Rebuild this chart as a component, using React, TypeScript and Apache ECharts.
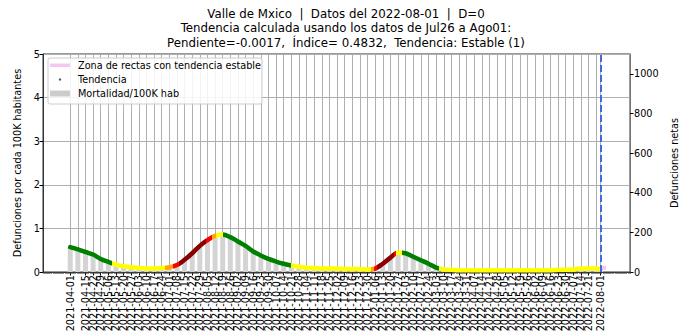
import React, { useEffect, useRef } from 'react';
import * as echarts from 'echarts';

const titleLines = [
  'Valle de Mxico  |  Datos del 2022-08-01  |  D=0',
  'Tendencia calculada usando los datos de Jul26 a Ago01:',
  'Pendiente=-0.0017,  Índice= 0.4832,  Tendencia: Estable (1)',
];

// x axis range (daily categories) and tick labels
const axisStart = '2021-03-07';
const axisEnd = '2022-08-28';
const firstTick = '2021-04-01';
const weeklyTickCount = 70;
const lastTick = '2022-08-01';

// weekly values (one per tick label, last one = 2022-08-01)
const trendVals = [
  0.57, 0.52, 0.46, 0.40, 0.30, 0.23, 0.17, 0.13, 0.11, 0.09,
  0.08, 0.08, 0.09, 0.11, 0.16, 0.28, 0.43, 0.60, 0.73, 0.83,
  0.86, 0.80, 0.70, 0.60, 0.47, 0.38, 0.30, 0.24, 0.19, 0.15,
  0.12, 0.10, 0.09, 0.08, 0.08, 0.08, 0.07, 0.07, 0.07, 0.06,
  0.08, 0.19, 0.33, 0.45, 0.43, 0.35, 0.27, 0.19, 0.10, 0.06,
  0.05, 0.04, 0.04, 0.04, 0.04, 0.04, 0.04, 0.04, 0.04, 0.04,
  0.04, 0.04, 0.04, 0.04, 0.05, 0.05, 0.06, 0.08, 0.08, 0.08,
  0.07,
];
const barVals = [
  0.55, 0.50, 0.46, 0.40, 0.32, 0.24, 0.18, 0.13, 0.11, 0.09,
  0.08, 0.08, 0.09, 0.11, 0.17, 0.29, 0.45, 0.62, 0.76, 0.86,
  0.88, 0.81, 0.70, 0.59, 0.48, 0.38, 0.30, 0.24, 0.19, 0.15,
  0.12, 0.10, 0.09, 0.08, 0.08, 0.08, 0.07, 0.07, 0.07, 0.06,
  0.09, 0.20, 0.34, 0.46, 0.43, 0.35, 0.27, 0.18, 0.10, 0.06,
  0.05, 0.04, 0.04, 0.04, 0.04, 0.04, 0.04, 0.04, 0.04, 0.04,
  0.04, 0.04, 0.04, 0.04, 0.05, 0.05, 0.06, 0.08, 0.09, 0.08,
  0.08,
];

// trend colour zones: [startDay, endDay, colour], days counted from 2021-04-01
const G = '#008000', Y = '#ffff00', O = '#ffa500', R = '#ff0000', D = '#8b0000';
const trendZones: [number, number, string][] = [
  [-100, 38, G], [38, 87, Y], [87, 94, O], [94, 100, R], [100, 125, D],
  [125, 130, R], [130, 134, O], [134, 140, Y], [140, 203, G], [203, 276, Y],
  [276, 279, O], [279, 282, R], [282, 297, D], [297, 299, R], [299, 305, Y],
  [305, 339, G], [339, 1000, Y],
];

const zoneDates = ['2022-08-01', '2022-08-06'];
const zoneVals = [0.095, 0.095];

const leftTicks = [0, 1, 2, 3, 4, 5];
const rightTicks = [0, 200, 400, 600, 800, 1000];
const legendNames = ['Zona de rectas con tendencia estable', 'Tendencia', 'Mortalidad/100K hab'];
const yLeftName = 'Defunciones por cada 100K habitantes';
const yRightName = 'Defunciones netas';

const FONT = 'DejaVu Sans';

function addDays(iso: string, n: number) {
  const d = new Date(iso + 'T00:00:00Z');
  d.setUTCDate(d.getUTCDate() + n);
  return d.toISOString().slice(0, 10);
}
function dayDiff(a: string, b: string) {
  return Math.round((Date.parse(b + 'T00:00:00Z') - Date.parse(a + 'T00:00:00Z')) / 86400000);
}

export default function App() {
  const ref = useRef<HTMLDivElement>(null);
  useEffect(() => {
    if (!ref.current) return;
    const chart = echarts.init(ref.current, undefined, { renderer: 'svg' });

    const nCats = dayDiff(axisStart, axisEnd) + 1;
    const cats: string[] = [];
    for (let i = 0; i < nCats; i++) cats.push(addDays(axisStart, i));
    const tickDates: string[] = [];
    for (let i = 0; i < weeklyTickCount; i++) tickDates.push(addDays(firstTick, 7 * i));
    tickDates.push(lastTick);
    const tickSet = new Set(tickDates);
    const isTick = (_i: number, v: string) => tickSet.has(v);
    const off = dayDiff(axisStart, firstTick);

    const pieces = trendZones.map(([s, e, c]) => ({ gte: s + off, lt: e + off, color: c }));

    const legendGraphic = [
      {
        type: 'rect', shape: { x: 48, y: 58, width: 214, height: 46, r: 2 },
        style: { fill: 'rgba(255,255,255,0.85)', stroke: '#cccccc', lineWidth: 1 }, z: 100,
      },
      { type: 'rect', shape: { x: 50, y: 63.5, width: 20, height: 3.5 }, style: { fill: '#f6c6f1' }, z: 101 },
      { type: 'circle', shape: { cx: 60, cy: 79.5, r: 1.2 }, style: { fill: '#555' }, z: 101 },
      { type: 'rect', shape: { x: 50, y: 90.5, width: 20, height: 6 }, style: { fill: '#cccccc' }, z: 101 },
      ...legendNames.map((t, i) => ({
        type: 'text', x: 78, y: 65.5 + i * 14.2, z: 101,
        style: { text: t, fontSize: 9.7, fontFamily: FONT, fill: '#000', verticalAlign: 'middle' },
      })),
    ];

    chart.setOption({
      animation: false,
      textStyle: { fontFamily: FONT },
      title: {
        text: titleLines.join('\n'), left: 'center', top: 1.5,
        textStyle: { fontSize: 11.8, lineHeight: 14.5, fontWeight: 'normal', fontFamily: FONT, color: '#000' },
      },
      grid: { left: 43, right: 62, top: 54, bottom: 64, show: true, borderColor: '#333', borderWidth: 1, backgroundColor: 'transparent' },
      xAxis: [
        {
          type: 'category', data: cats, boundaryGap: false,
          axisLine: { lineStyle: { color: '#333' } },
          axisTick: { interval: isTick, length: 3.5, lineStyle: { color: '#000' } },
          axisLabel: {
            interval: isTick, rotate: 90, fontSize: 9.7, color: '#000', margin: 3, fontFamily: FONT,
            hideOverlap: false, showMinLabel: true, showMaxLabel: true,
          },
          splitLine: { show: true, interval: isTick, lineStyle: { color: '#b0b0b0', width: 1 } },
        },
        {
          type: 'category', data: cats, boundaryGap: false, position: 'bottom',
          axisLine: { show: false },
          axisTick: { show: true, interval: 0, length: 2, lineStyle: { color: '#444', width: 0.6 } },
          axisLabel: { show: false }, splitLine: { show: false },
        },
      ],
      yAxis: [
        {
          type: 'value', min: 0, max: 5, interval: 1, position: 'left',
          name: yLeftName, nameLocation: 'middle', nameRotate: 90, nameGap: 12,
          nameTextStyle: { fontSize: 9.7, color: '#000', fontFamily: FONT },
          axisLine: { show: true, lineStyle: { color: '#333' } },
          axisTick: { show: true, length: 3.5, lineStyle: { color: '#000' } },
          axisLabel: { fontSize: 9.7, color: '#000', margin: 3, customValues: leftTicks },
          splitLine: { show: true, lineStyle: { color: '#b0b0b0', width: 1 } },
        },
        {
          type: 'value', min: 0, max: 1100, position: 'right',
          name: yRightName, nameLocation: 'middle', nameRotate: 90, nameGap: 27,
          nameTextStyle: { fontSize: 9.7, color: '#000', fontFamily: FONT },
          axisLine: { show: true, lineStyle: { color: '#777' } },
          axisTick: { show: true, length: 3.5, lineStyle: { color: '#000' }, customValues: rightTicks },
          axisLabel: {
            fontSize: 9.7, color: '#000', margin: 4, customValues: rightTicks,
            formatter: (v: number) => String(v),
          },
          splitLine: { show: false },
        },
      ],
      visualMap: {
        type: 'piecewise', show: false, dimension: 0, seriesIndex: 1, pieces,
      },
      series: [
        {
          name: legendNames[2], type: 'bar', barWidth: 5,
          data: tickDates.map((d, i) => [d, barVals[i]]),
          itemStyle: { color: '#d4d4d4' }, silent: true,
        },
        {
          name: legendNames[1], type: 'line', smooth: 0.35, showSymbol: false,
          data: tickDates.map((d, i) => [d, trendVals[i]]),
          lineStyle: { width: 4.5, cap: 'round', join: 'round' }, silent: true, z: 3,
        },
        {
          name: legendNames[0], type: 'line', showSymbol: false,
          data: zoneDates.map((d, i) => [d, zoneVals[i]]),
          lineStyle: { width: 4, color: '#f6c6f1' }, itemStyle: { color: '#f6c6f1' }, silent: true, z: 4,
          markLine: {
            symbol: 'none', silent: true, label: { show: false },
            lineStyle: { color: '#4169e1', type: [7, 3], width: 2 },
            data: [{ xAxis: lastTick }],
          },
        },
      ],
      graphic: legendGraphic,
    });
    return () => chart.dispose();
  }, []);
  return <div ref={ref} style={{ position: 'absolute', left: 0, top: 0, width: 692, height: 336 }} />;
}
